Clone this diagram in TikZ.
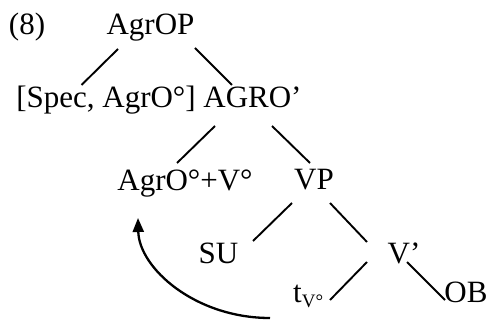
\documentclass[tikz,border=0pt]{standalone}
\usepackage{fontspec}
\setmainfont{Liberation Serif}
\usepackage{tikz}
\usetikzlibrary{arrows.meta, positioning}

\begin{document}
\begin{tikzpicture}[
            x=1pt, y=-1pt,
            cat/.style={inner sep=0pt, anchor=base, font=\fontsize{31}{37}\selectfont},
            branch/.style={line width=1.9pt},
            move/.style={-{Triangle[length=14pt, width=11pt]}, line width=2.3pt}
        ]
        \useasboundingbox (0,0) rectangle (490,320);

        % Nodes (manual layout to match figure)
        \node[cat] (num) at (27,35) {(8)};
        \node[cat] (agrop) at (150.5,35) {AgrOP};
        \node[cat] (spec) at (106,108) {[Spec, AgrO°]};
        \node[cat] (agro) at (252.5,108) {AGRO’};
        \node[cat] (agrv) at (185,191) {AgrO°+V°};
        \node[cat] (vp) at (314,190) {VP};
        \node[cat] (su) at (218.5,264) {SU};
        \node[cat] (vbar) at (404,264) {V’};
        \node[cat, anchor=base west] (tv) at (293,303)
            {t{\fontsize{19}{22}\selectfont\raisebox{-5pt}{V°}}};
        \node[cat] (ob) at (466,303) {OB};

        % Branches
        \draw[branch] ([shift={(-32.5,14)}]agrop.base) -- ([shift={(-24.5,-23)}]spec.base);
        \draw[branch] ([shift={(44.5,13)}]agrop.base) -- ([shift={(-20.5,-23)}]agro.base);

        \draw[branch] ([shift={(-37.5,18)}]agro.base) -- ([shift={(-8,-28)}]agrv.base);
        \draw[branch] ([shift={(19.5,18)}]agro.base) -- ([shift={(-4,-27)}]vp.base);

        \draw[branch] ([shift={(-22,13)}]vp.base) -- ([shift={(34.5,-23)}]su.base);
        \draw[branch] ([shift={(16,13)}]vp.base) -- ([shift={(-37,-22)}]vbar.base);

        \draw[branch] ([shift={(-37,-2)}]vbar.base) -- ([shift={(37,-3)}]tv.base west);
        \draw[branch] ([shift={(3,-2)}]vbar.base) -- ([shift={(-21,-3)}]ob.base);

        % Head movement
        \coordinate (launch) at (270,318);
        \coordinate (landing) at (138,218);
        \draw[move] (launch) .. controls (195,318) and (139,268) .. (landing);

\end{tikzpicture}
\end{document}
